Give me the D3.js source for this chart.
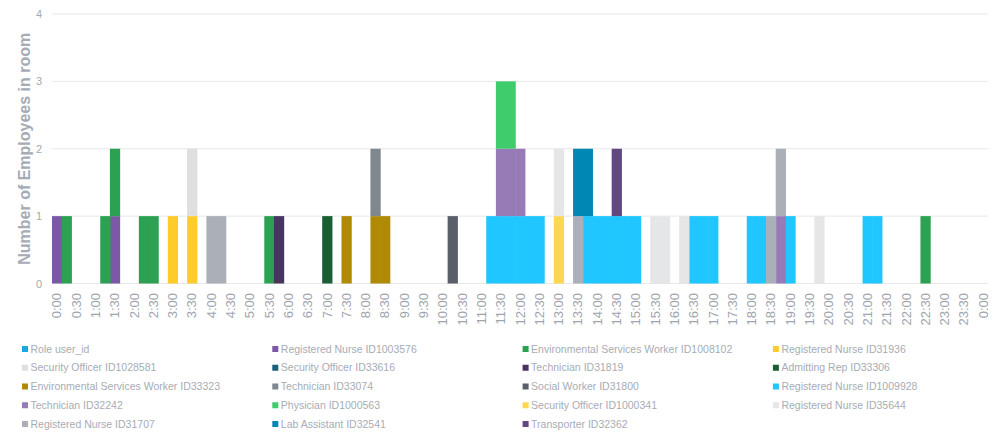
<!DOCTYPE html>
<html>
<head>
<meta charset="utf-8">
<script src="https://cdn.jsdelivr.net/npm/d3@7"></script>
<style>
  body { margin: 0; background: #fff; }
  svg { font-family: "Liberation Sans", Arial, sans-serif; }
</style>
</head>
<body>
<svg id="chart" width="1000" height="433"></svg>
<script>
// 15 minute slots, label shown on every second one
var slotLabels = ["0:00","0:15","0:30","0:45","1:00","1:15","1:30","1:45","2:00","2:15","2:30","2:45",
  "3:00","3:15","3:30","3:45","4:00","4:15","4:30","4:45","5:00","5:15","5:30","5:45",
  "6:00","6:15","6:30","6:45","7:00","7:15","7:30","7:45","8:00","8:15","8:30","8:45",
  "9:00","9:15","9:30","9:45","10:00","10:15","10:30","10:45","11:00","11:15","11:30","11:45",
  "12:00","12:15","12:30","12:45","13:00","13:15","13:30","13:45","14:00","14:15","14:30","14:45",
  "15:00","15:15","15:30","15:45","16:00","16:15","16:30","16:45","17:00","17:15","17:30","17:45",
  "18:00","18:15","18:30","18:45","19:00","19:15","19:30","19:45","20:00","20:15","20:30","20:45",
  "21:00","21:15","21:30","21:45","22:00","22:15","22:30","22:45","23:00","23:15","23:30","23:45","0:00"]

var employees = [
  "Role user_id",
  "Registered Nurse ID1003576",
  "Environmental Services Worker ID1008102",
  "Registered Nurse ID31936",
  "Security Officer ID1028581",
  "Security Officer ID33616",
  "Technician ID31819",
  "Admitting Rep ID33306",
  "Environmental Services Worker ID33323",
  "Technician ID33074",
  "Social Worker ID31800",
  "Registered Nurse ID1009928",
  "Technician ID32242",
  "Physician ID1000563",
  "Security Officer ID1000341",
  "Registered Nurse ID35644",
  "Registered Nurse ID31707",
  "Lab Assistant ID32541",
  "Transporter ID32362"
]

var employeeColors = ["#17a9e1","#7b59a4","#2ca152","#fdcc2b","#dedfe1","#1b6079","#47345f",
  "#1a5e33","#b08905","#7f878f","#5b5f69","#1fc6ff","#967bb7","#3ecc6d","#ffd651",
  "#e5e6e8","#abb0b8","#0087b3","#614882"]

// slots in which each employee was in the room (count 1)
var inRoom = [
  [],
  ["0:00","1:30"],
  ["0:15","1:15","1:30","2:15","2:30","5:30","22:30"],
  ["3:00","3:30"],
  ["3:30"],
  [],
  ["5:45"],
  ["7:00"],
  ["7:30","8:15","8:30"],
  ["8:15"],
  ["10:15"],
  ["11:15","11:30","11:45","12:00","12:15","12:30","13:45","14:00","14:15","14:30","14:45","15:00",
   "16:30","16:45","17:00","18:00","18:15","19:00","21:00","21:15"],
  ["11:30","11:45","12:00","18:45"],
  ["11:30","11:45"],
  ["13:00"],
  ["13:00","15:30","15:45","16:15","19:45"],
  ["4:00","4:15","13:30","18:30","18:45"],
  ["13:30","13:45"],
  ["14:30"]
]

var yTicks = [0, 1, 2, 3, 4]

var svg = d3.select("#chart")
var plotLeft = 52, plotRight = 988, plotTop = 14, plotBottom = 283.5

//build table: one row per slot
var table = slotLabels.map(function(lab, i) {
  var row = { slot: i }
  employees.forEach(function(name, k) {
    row[name] = (i < slotLabels.length - 1 && inRoom[k].indexOf(lab) > -1) ? 1 : 0
  })
  return row
})

var stacked = d3.stack().keys(employees)(table)

var x = d3.scaleBand()
  .domain(d3.range(slotLabels.length))
  .range([plotLeft, plotRight])
  .padding(0)

var y = d3.scaleLinear()
  .domain([0, 4])
  .range([plotBottom, plotTop])

var color = d3.scaleOrdinal().domain(employees).range(employeeColors)

//gridlines
svg.append("g")
  .selectAll("line")
  .data(yTicks)
  .enter().append("line")
  .attr("x1", plotLeft)
  .attr("x2", plotRight)
  .attr("y1", function(d) { return y(d) })
  .attr("y2", function(d) { return y(d) })
  .style("stroke", "#e6e7e9")
  .style("stroke-width", 1)

//y axis labels
var yAxis = svg.append("g")
  .attr("transform", "translate(" + plotLeft + ",0)")
  .call(d3.axisLeft(y).tickValues(yTicks).tickSize(0).tickPadding(10).tickFormat(d3.format("d")))
yAxis.select(".domain").remove()
yAxis.selectAll("text")
  .style("font-size", "11px")
  .style("fill", "#a3a9b2")
  .style("font-family", "'Liberation Sans', Arial, sans-serif")

//y title
svg.append("text")
  .attr("transform", "translate(30," + ((plotTop + plotBottom) / 2) + ") rotate(-90)")
  .attr("text-anchor", "middle")
  .style("font-size", "16px")
  .style("font-weight", "bold")
  .style("fill", "#a6acb5")
  .text("Number of Employees in room")

//bars (tiny overlap so neighbouring slots of one series don't show a seam)
svg.append("g")
  .selectAll("g")
  .data(stacked)
  .enter().append("g")
  .attr("fill", function(d) { return color(d.key) })
  .selectAll("rect")
  .data(function(d) { return d.filter(function(p) { return p[1] > p[0] }) })
  .enter().append("rect")
  .attr("x", function(d) { return x(d.data.slot) })
  .attr("y", function(d) { return y(d[1]) })
  .attr("width", x.bandwidth() + 0.6)
  .attr("height", function(d) { return y(d[0]) - y(d[1]) })

//x axis labels, every second slot
var xAxis = svg.append("g")
  .attr("transform", "translate(0," + plotBottom + ")")
  .call(d3.axisBottom(x)
    .tickValues(d3.range(0, slotLabels.length, 2))
    .tickSize(0)
    .tickFormat(function(i) { return slotLabels[i] }))
xAxis.select(".domain").remove()
xAxis.selectAll("text")
  .attr("transform", "rotate(-90)")
  .attr("text-anchor", "end")
  .attr("x", -9.5)
  .attr("y", 0)
  .attr("dy", "0.35em")
  .style("font-size", "13px")
  .style("fill", "#9ea4ae")
  .style("font-family", "'Liberation Sans', Arial, sans-serif")

//legend, 4 columns
var legend = svg.append("g").attr("class", "legend")
var legendItems = legend.selectAll(".legendItem")
  .data(employees)
  .enter().append("g")
  .attr("class", "legendItem")
  .attr("transform", function(d, i) {
    return "translate(" + (22 + (i % 4) * 250.3) + "," + (349 + Math.floor(i / 4) * 18.75) + ")"
  })

legendItems.append("rect")
  .attr("x", 0)
  .attr("y", -3)
  .attr("width", 6)
  .attr("height", 6)
  .style("fill", function(d) { return color(d) })

legendItems.append("text")
  .attr("x", 8.5)
  .attr("y", 0)
  .attr("dy", "0.35em")
  .style("font-size", "10.5px")
  .style("fill", "#a7acb5")
  .text(function(d) { return d })
</script>
</body>
</html>
